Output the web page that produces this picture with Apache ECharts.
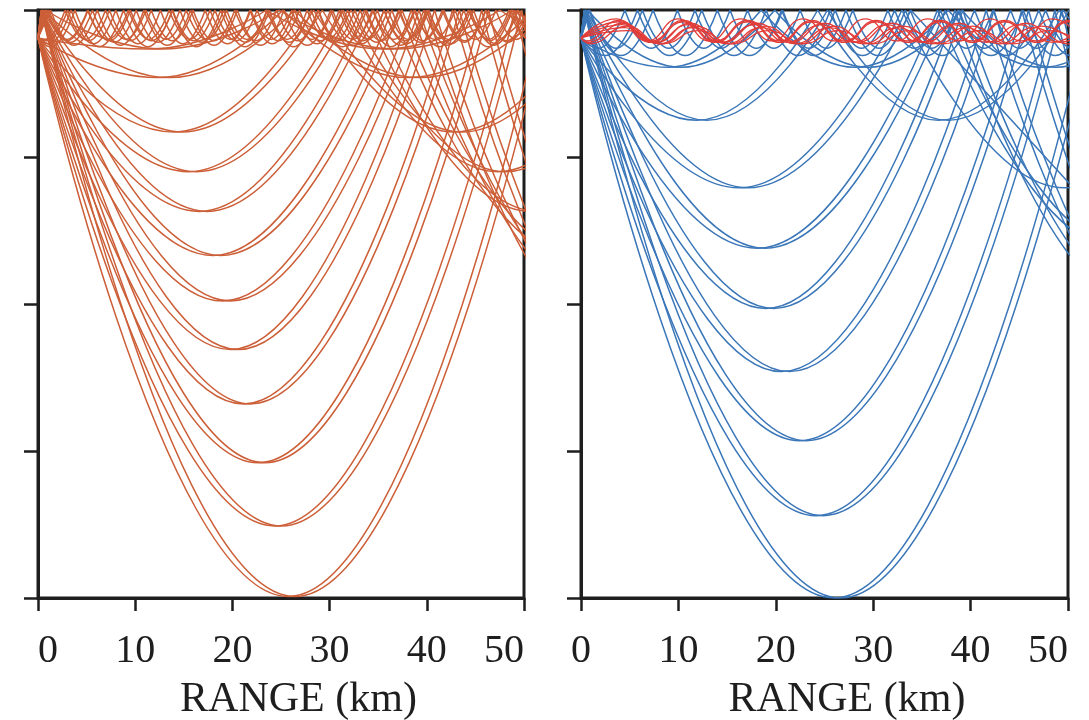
<!DOCTYPE html>
<html><head><meta charset="utf-8">
<script src="https://cdn.jsdelivr.net/npm/echarts@6/dist/echarts.min.js"></script>
<style>html,body{margin:0;padding:0;background:#fff}#c{width:1089px;height:720px}</style>
</head><body><div id="c"></div><script>
// ---------- data (range km, depth in axis units; 0 = surface) ----------
const SOURCE_DEPTH = 0.19;
const xTicks = [0, 10, 20, 30, 40, 50];
const yTicks = [0, 1, 2, 3, 4];

// Left panel: turning depth, first direction ('d' = down first, 'u' = up first),
// key ranges alternating turning point / surface reflection
const leftRayDepth = [0.265,0.265,0.46,0.46,0.83,0.83,1.10,1.10,1.37,1.37,1.67,1.67,1.98,1.98,2.31,2.31,2.68,2.68,3.08,3.08,3.51,3.51,3.99,3.99,
  0.20,0.22,0.24,0.21,0.23,0.25,0.21,0.20];
const leftRayFirst = ['d','u','d','u','d','u','d','u','d','u','d','u','d','u','d','u','d','u','d','u','d','u','d','u',
  'u','u','u','d','d','d','u','d'];
const leftRayKeyX = [
  [11.5,23.5,35.5,47.5,59.5,71.5],
  [0.8,12.8,24.8,36.8,48.8,60.8,72.8],
  [12.3,25.2,38.1,51.0],
  [0.6,13.5,26.4,39.3,52.2],
  [13.95,28.35,42.75,57.15],
  [0.45,14.85,29.25,43.65,58.05],
  [15.5,31.4,47.3,63.2],
  [0.4,16.3,32.2,48.1,64.0],
  [16.6,33.6,50.6,67.6],
  [0.4,17.4,34.4,51.4,68.4],
  [18.0,36.4,54.8,73.2],
  [0.4,18.8,37.2,55.6,74.0],
  [19.0,38.4,57.8,77.2],
  [0.4,19.8,39.2,58.6,78.0],
  [19.8,40.0,60.2,80.4],
  [0.4,20.6,40.8,61.0,81.2],
  [21.15,42.65,64.15,85.65],
  [0.35,21.85,43.35,64.85,86.35],
  [22.65,45.65,68.65,91.65],
  [0.35,23.35,46.35,69.35,92.35],
  [24.35,49.05,73.75,98.45],
  [0.35,25.05,49.75,74.45,99.15],
  [25.75,51.85],
  [0.35,26.45,52.55],
  [0.9,3.0,5.1,7.2,9.3,11.4,13.5,15.6,17.7,19.8,21.9,24.0,26.1,28.2,30.3,32.4,34.5,36.6,38.7,40.8,42.9,45.0,47.1,49.2,51.3],
  [1.1,3.35,5.6,7.85,10.1,12.35,14.6,16.85,19.1,21.35,23.6,25.85,28.1,30.35,32.6,34.85,37.1,39.35,41.6,43.85,46.1,48.35,50.6],
  [1.3,3.7,6.1,8.5,10.9,13.3,15.7,18.1,20.5,22.9,25.3,27.7,30.1,32.5,34.9,37.3,39.7,42.1,44.5,46.9,49.3,51.7,54.1],
  [0.9,3.05,5.2,7.35,9.5,11.65,13.8,15.95,18.1,20.25,22.4,24.55,26.7,28.85,31.0,33.15,35.3,37.45,39.6,41.75,43.9,46.05,48.2,50.35],
  [1.1,3.4,5.7,8.0,10.3,12.6,14.9,17.2,19.5,21.8,24.1,26.4,28.7,31.0,33.3,35.6,37.9,40.2,42.5,44.8,47.1,49.4,51.7],
  [1.3,3.8,6.3,8.8,11.3,13.8,16.3,18.8,21.3,23.8,26.3,28.8,31.3,33.8,36.3,38.8,41.3,43.8,46.3,48.8,51.3],
  [0.8,2.98,5.15,7.33,9.5,11.68,13.85,16.03,18.2,20.38,22.55,24.73,26.9,29.08,31.25,33.43,35.6,37.78,39.95,42.13,44.3,46.48,48.65,50.83,53.0],
  [0.7,2.8,4.88,6.95,9.03,11.1,13.18,15.25,17.33,19.4,21.48,23.55,25.63,27.7,29.78,31.85,33.93,36.0,38.08,40.15,42.23,44.3,46.38,48.45,50.53,52.6]
];

// Right panel, blue rays (surface reflected)
const rightRayDepth = [0.39,0.39,0.75,0.75,1.21,1.21,1.62,1.62,2.03,2.03,2.46,2.46,2.93,2.93,3.44,3.44,4.00,4.00,
  0.31,0.31,0.26,0.26];
const rightRayFirst = ['d','u','d','u','d','u','d','u','d','u','d','u','d','u','d','u','d','u','u','d','u','d'];
const rightRayKeyX = [
  [8.9,18.5,28.1,37.7,47.3,56.9],
  [0.7,10.3,19.9,29.5,39.1,48.7,58.3],
  [11.9,24.3,36.7,49.1,61.5,73.9],
  [0.5,12.9,25.3,37.7,50.1],
  [16.25,32.95,49.65,66.35],
  [0.45,17.15,33.85,50.55],
  [18.1,36.6,55.1,73.6],
  [0.4,18.9,37.4,55.9,74.4],
  [19.0,38.4,57.8,77.2],
  [0.4,19.8,39.2,58.6,78.0],
  [20.6,41.6,62.6,83.6],
  [0.4,21.4,42.4,63.4,84.4],
  [22.45,45.25,68.05,90.85],
  [0.35,23.15,45.95,68.75,91.55],
  [24.15,48.65,73.15,97.65],
  [0.35,24.85,49.35,73.85,98.35],
  [25.95,52.25],
  [0.35,26.65,52.95],
  [0.8,4.1,7.4,10.7,14.0,17.3,20.6,23.9,27.2,30.5,33.8,37.1,40.4,43.7,47.0,50.3,53.6],
  [2.5,5.8,9.1,12.4,15.7,19.0,22.3,25.6,28.9,32.2,35.5,38.8,42.1,45.4,48.7,52.0],
  [0.9,3.6,6.3,9.0,11.7,14.4,17.1,19.8,22.5,25.2,27.9,30.6,33.3,36.0,38.7,41.4,44.1,46.8,49.5,52.2],
  [1.8,4.5,7.2,9.9,12.6,15.3,18.0,20.7,23.4,26.1,28.8,31.5,34.2,36.9,39.6,42.3,45.0,47.7,50.4,53.1]
];

// Right panel, red rays trapped below the surface: upper / lower turning depths
const redTop = [0.06,0.08,0.10,0.12,0.14,0.07,0.09,0.11];
const redBottom = [0.21,0.22,0.22,0.23,0.23,0.21,0.22,0.23];
const redFirst = ['u','u','u','u','u','d','d','d'];
const redKeyX = [
  [3.6,6.8,10.0,13.2,16.4,19.6,22.8,26.0,29.2,32.4,35.6,38.8,42.0,45.2,48.4,51.6],
  [3.9,7.2,10.5,13.8,17.1,20.4,23.7,27.0,30.3,33.6,36.9,40.2,43.5,46.8,50.1,53.4],
  [4.2,7.6,11.0,14.4,17.8,21.2,24.6,28.0,31.4,34.8,38.2,41.6,45.0,48.4,51.8],
  [4.5,8.0,11.5,15.0,18.5,22.0,25.5,29.0,32.5,36.0,39.5,43.0,46.5,50.0,53.5],
  [4.8,8.4,12.0,15.6,19.2,22.8,26.4,30.0,33.6,37.2,40.8,44.4,48.0,51.6],
  [0.5,3.9,7.2,10.5,13.8,17.1,20.4,23.7,27.0,30.3,33.6,36.9,40.2,43.5,46.8,50.1,53.4],
  [0.7,4.3,7.75,11.2,14.65,18.1,21.55,25.0,28.45,31.9,35.35,38.8,42.25,45.7,49.15,52.6],
  [0.9,4.7,8.25,11.8,15.35,18.9,22.45,26.0,29.55,33.1,36.65,40.2,43.75,47.3,50.85]
];

// ---------- building the series ----------
const GAP = ['-', '-'];
function surfaceRay(D, first, xs) {
  const data = [[0, SOURCE_DEPTH]];
  let isTurn = first === 'd';
  xs.forEach((x, i) => {
    if (isTurn) data.push([x, D]);
    else {
      data.push([x, 0]);
      if (i < xs.length - 1) { data.push(GAP); data.push([x, 0]); }
    }
    isTurn = !isTurn;
  });
  return data;
}
function channelRay(top, bottom, first, xs) {
  const data = [[0, SOURCE_DEPTH]];
  let isTop = first === 'u';
  xs.forEach(x => { data.push([x, isTop ? top : bottom]); isTop = !isTop; });
  return data;
}
function lineSeries(data, grid, color, width) {
  return {
    type: 'line', xAxisIndex: grid, yAxisIndex: grid, data: data,
    smooth: 0.5, smoothMonotone: 'x', showSymbol: false, symbol: 'none',
    connectNulls: false, clip: true, silent: true, animation: false,
    lineStyle: { color: color, width: width }
  };
}
const ORANGE = '#cc5f38', BLUE = '#3a76b8', RED = '#e23c38';
const series = [];
leftRayKeyX.forEach((xs, i) => series.push(lineSeries(surfaceRay(leftRayDepth[i], leftRayFirst[i], xs), 0, ORANGE, 1.5)));
rightRayKeyX.forEach((xs, i) => series.push(lineSeries(surfaceRay(rightRayDepth[i], rightRayFirst[i], xs), 1, BLUE, 1.5)));
redKeyX.forEach((xs, i) => series.push(lineSeries(channelRay(redTop[i], redBottom[i], redFirst[i], xs), 1, RED, 1.3)));

const INK = '#1e1e1e';
const FONT = 'Liberation Serif';
function xAxis(grid, minAlign, namePad) {
  return {
    type: 'value', gridIndex: grid, min: xTicks[0], max: xTicks[xTicks.length - 1], interval: xTicks[1] - xTicks[0],
    axisLine: { onZero: false, lineStyle: { color: INK, width: 3 } },
    axisTick: { length: 13, lineStyle: { color: INK, width: 2.5 } },
    axisLabel: { color: INK, fontFamily: FONT, fontSize: 40, margin: 33, alignMinLabel: minAlign, alignMaxLabel: 'right' },
    splitLine: { show: false },
    name: 'RANGE (km)', nameLocation: 'middle', nameGap: 81,
    nameTextStyle: { color: INK, fontFamily: FONT, fontSize: 42, padding: [0, 0, 0, namePad] }
  };
}
function yAxis(grid) {
  return {
    type: 'value', gridIndex: grid, inverse: true, min: yTicks[0], max: yTicks[yTicks.length - 1], interval: yTicks[1] - yTicks[0],
    axisLine: { onZero: false, lineStyle: { color: INK, width: 3 } },
    axisTick: { length: 14, lineStyle: { color: INK, width: 2.5 } },
    axisLabel: { show: false }, splitLine: { show: false }
  };
}
const chart = echarts.init(document.getElementById('c'), null, { renderer: 'canvas' });
chart.setOption({
  backgroundColor: '#fff',
  animation: false,
  grid: [
    { left: 38, top: 10, width: 486, height: 588, show: true, borderColor: INK, borderWidth: 3, outerBoundsMode: 'none', containLabel: false },
    { left: 581, top: 10, width: 487, height: 588, show: true, borderColor: INK, borderWidth: 3, outerBoundsMode: 'none', containLabel: false }
  ],
  xAxis: [xAxis(0, 'left', 35), xAxis(1, 'center', 45)],
  yAxis: [yAxis(0), yAxis(1)],
  series: series
});
</script></body></html>
